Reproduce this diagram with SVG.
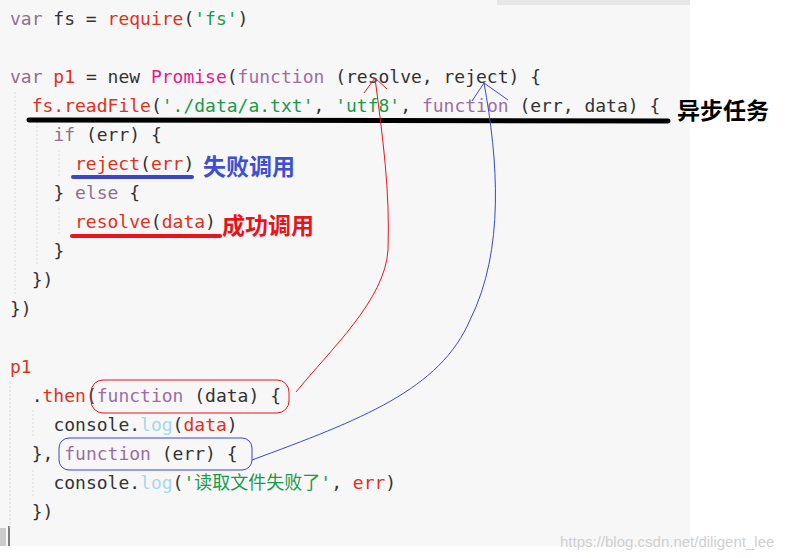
<svg xmlns="http://www.w3.org/2000/svg" width="794" height="558" viewBox="0 0 794 558">
<style>
.c{font-family:"DejaVu Sans Mono","Liberation Mono",monospace;font-size:18px;fill:#333}
.k{fill:#8f6f8f}.r{fill:#e0301e}.s{fill:#1a9a4a}.p{fill:#e0208a}.f{fill:#9a6fa0}.l{fill:#a6d8ef}
.a{font-family:"Noto Sans CJK SC",sans-serif;font-size:23px;font-weight:bold}
.g{stroke:#d8d8d8;stroke-width:1;stroke-dasharray:2 2}
</style>
<rect width="794" height="558" fill="#fff"/>
<rect x="0" y="0" width="690" height="546" fill="#f7f7f7"/>
<rect x="497" y="0" width="193" height="5" fill="#e6e6e6"/>
<rect x="0" y="528" width="6" height="18" fill="#ccc"/>
<line x1="9" y1="526" x2="9" y2="546" stroke="#555" stroke-width="1.5"/>
<g id="guides">
<line class="g" x1="15" y1="92" x2="15" y2="295"/>
<line class="g" x1="37" y1="122" x2="37" y2="265"/>
<line class="g" x1="59" y1="150" x2="59" y2="178"/>
<line class="g" x1="59" y1="208" x2="59" y2="236"/>
<line class="g" x1="10" y1="382" x2="10" y2="528"/>
<line class="g" x1="33" y1="410" x2="33" y2="438"/>
<line class="g" x1="33" y1="470" x2="33" y2="498"/>
</g>
<g id="code">
<text class="c" x="10" y="25"><tspan class="k">var</tspan> fs = <tspan class="r">require</tspan>(<tspan class="s">'fs'</tspan>)</text>
<text class="c" x="10" y="83"><tspan class="k">var</tspan> <tspan class="r">p1</tspan> = new <tspan class="p">Promise</tspan>(<tspan class="f">function</tspan> (resolve, reject) {</text>
<text class="c" x="31.7" y="112"><tspan class="r">fs.readFile</tspan>(<tspan class="s">'./data/a.txt'</tspan>, <tspan class="s">'utf8'</tspan>, <tspan class="f">function</tspan> (err, data) {</text>
<text class="c" x="53.4" y="141"><tspan class="k">if</tspan> (err) {</text>
<text class="c" x="75" y="170"><tspan class="r">reject</tspan>(<tspan class="r">err</tspan>)</text>
<text class="c" x="53.4" y="199">} <tspan class="k">else</tspan> {</text>
<text class="c" x="75" y="228"><tspan class="r">resolve</tspan>(<tspan class="r">data</tspan>)</text>
<text class="c" x="53.4" y="257">}</text>
<text class="c" x="31.7" y="286">})</text>
<text class="c" x="10" y="315">})</text>
<text class="c r" x="10" y="373">p1</text>
<text class="c" x="31.7" y="402">.<tspan class="r">then</tspan>(<tspan class="f">function</tspan> (data) {</text>
<text class="c" x="53.4" y="431">console.<tspan class="l">log</tspan>(<tspan class="r">data</tspan>)</text>
<text class="c" x="31.7" y="460">}, <tspan class="f">function</tspan> (err) {</text>
<text class="c" x="53.4" y="489">console.<tspan class="l">log</tspan>(<tspan class="s" style="font-family:'DejaVu Sans Mono','Noto Sans CJK SC',monospace">'读取文件失败了'</tspan>, <tspan class="r">err</tspan>)</text>
<text class="c" x="31.7" y="518">})</text>
</g>
<g id="annotations">
<line x1="29" y1="120" x2="668" y2="121" stroke="#000" stroke-width="5" stroke-linecap="round"/>
<text class="a" x="677" y="119" fill="#000">异步任务</text>
<line x1="73" y1="177" x2="192" y2="177" stroke="#3b47c8" stroke-width="4" stroke-linecap="round"/>
<text class="a" x="203" y="175" fill="#3f4fd0">失败调用</text>
<line x1="72" y1="236" x2="220" y2="236" stroke="#e8141c" stroke-width="4" stroke-linecap="round"/>
<text class="a" x="222" y="234" fill="#e8141c">成功调用</text>
</g>
<g id="connectors" fill="none" stroke-width="1">
<rect x="91" y="380" width="198" height="33" rx="12" stroke="#e8141c"/>
<rect x="59" y="438" width="193" height="32" rx="10" stroke="#3b47c8"/>
<path d="M296,392 C330,350 385,300 388,250 C390,190 383,140 375,78" stroke="#e8141c"/>
<path d="M364,93 L375,78 L387,89" stroke="#e8141c"/>
<path d="M252,460 C360,420 440,390 470,320 C505,250 498,160 484,83" stroke="#3b47c8"/>
<path d="M472,101 L484,83 L508,100" stroke="#3b47c8"/>
</g>
<text x="560" y="547" font-family="Liberation Sans,sans-serif" font-size="15" fill="#d0d0d0">https://blog.csdn.net/diligent_lee</text>
</svg>
